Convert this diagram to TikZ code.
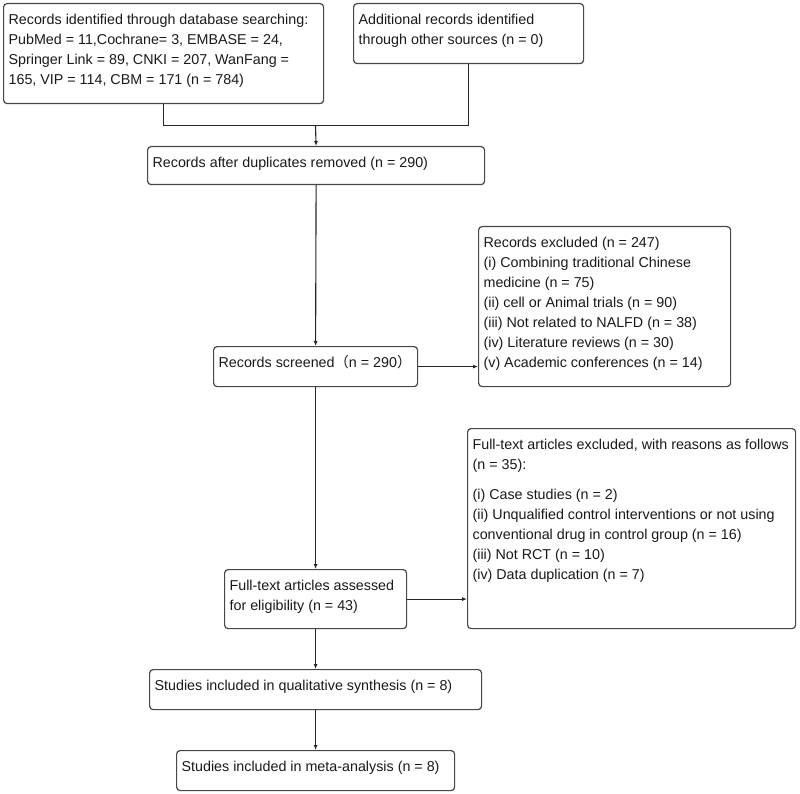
\documentclass[tikz,border=0pt]{standalone}
\usepackage{fontspec}
\setmainfont{Liberation Sans}
\newfontfamily\cjkfont{Noto Sans CJK SC}
\usetikzlibrary{arrows.meta}
\newcommand\boxtxt[3]{\parbox[c][\dimexpr#2pt-14pt\relax][t]{\dimexpr#1pt-10pt\relax}{\raggedright\strut #3}}
\begin{document}
\begin{tikzpicture}[x=1pt,y=-1pt,
  box/.style={draw=black!72, line width=1.2pt, rounded corners=3.5pt, anchor=north west,
    inner xsep=5pt, inner ysep=7pt, text=black!90, font=\fontsize{14.3}{20}\selectfont},
  conn/.style={draw=black!85, line width=1.1pt},
  arr/.style={conn, -{Latex[length=5pt,width=4pt]}}]
\useasboundingbox (0,0) rectangle (800,794);
\node[box, minimum width=320pt, minimum height=100pt] (b1) at (3,3)
  {\boxtxt{320}{100}{Records identified through database searching:\\
   PubMed = 11,Cochrane= 3, EMBASE = 24,\\
   Springer Link = 89, CNKI = 207, WanFang =\\
   165, VIP = 114, CBM = 171 (n = 784)}};
\node[box, minimum width=230pt, minimum height=60pt] (b2) at (353,3)
  {\boxtxt{230}{60}{Additional records identified\\ through other sources (n = 0)}};
\node[box, minimum width=337pt, minimum height=38pt] (b3) at (147,146)
  {\boxtxt{337}{38}{Records after duplicates removed (n = 290)}};
\node[box, minimum width=204pt, minimum height=40pt] (b4) at (213,346)
  {\boxtxt{204}{40}{Records screened{\cjkfont （}n = 290{\cjkfont ）}}};
\node[box, minimum width=252pt, minimum height=160pt] (b5) at (478,226)
  {\boxtxt{252}{160}{Records excluded (n = 247)\\
   (i) Combining traditional Chinese\\
   medicine (n = 75)\\
   (ii) cell or Animal trials (n = 90)\\
   (iii) Not related to NALFD (n = 38)\\
   (iv) Literature reviews (n = 30)\\
   (v) Academic conferences (n = 14)}};
\node[box, minimum width=328pt, minimum height=200pt] (b6) at (467,428)
  {\boxtxt{328}{200}{Full-text articles excluded, with reasons as follows\\
   (n = 35):\\[10pt]
   (i) Case studies (n = 2)\\
   (ii) Unqualified control interventions or not using\\
   conventional drug in control group (n = 16)\\
   (iii) Not RCT (n = 10)\\
   (iv) Data duplication (n = 7)}};
\node[box, minimum width=182pt, minimum height=59pt] (b7) at (224,569)
  {\boxtxt{182}{59}{Full-text articles assessed\\ for eligibility (n = 43)}};
\node[box, minimum width=332pt, minimum height=40pt] (b8) at (149,669)
  {\boxtxt{332}{40}{Studies included in qualitative synthesis (n = 8)}};
\node[box, minimum width=278pt, minimum height=40pt] (b9) at (176,750)
  {\boxtxt{278}{40}{Studies included in meta-analysis (n = 8)}};
\coordinate (jn) at (315.5,125.5);
\draw[conn] (b1.south) |- (jn) -| (b2.south);
\draw[arr] (jn) -- (b3.north);
\draw[arr] (b3.south) -- (b4.north);
\draw[arr] (b4.east) -- (b4.east -| b5.west);
\draw[arr] (b4.south) -- (b7.north);
\draw[arr] (b7.east) -- (b7.east -| b6.west);
\draw[arr] (b7.south) -- (b8.north);
\draw[arr] (b8.south) -- (b9.north);
\end{tikzpicture}
\end{document}
